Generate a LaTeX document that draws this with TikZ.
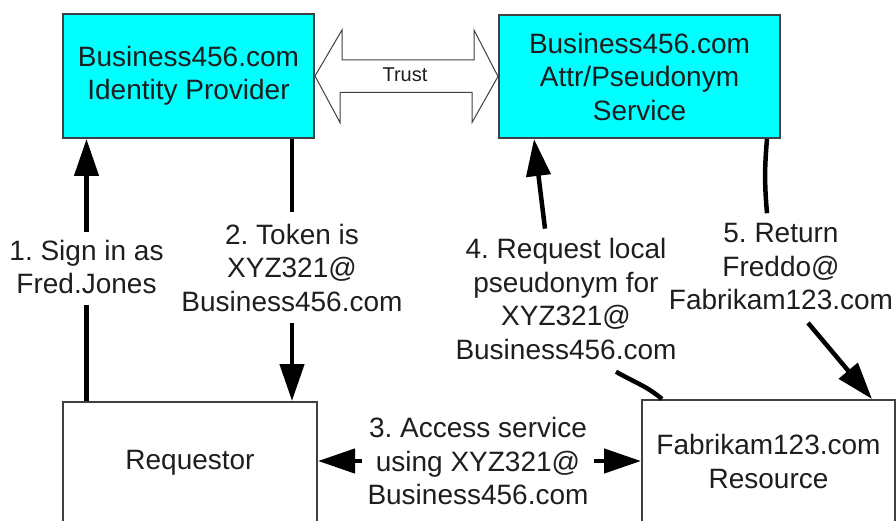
\documentclass[tikz,border=0pt]{standalone}
\usepackage{fontspec}
\setmainfont{Liberation Sans}
\usetikzlibrary{arrows.meta,calc}
\definecolor{aqua}{RGB}{0,255,255}
\definecolor{txt}{RGB}{30,30,30}
\frenchspacing
\begin{document}
\begin{tikzpicture}[x=1pt,y=-1pt,
  box/.style={draw=black!75, line width=2pt, inner sep=0pt, align=center,
    font=\fontsize{28}{33.5}\selectfont, text=txt},
  cbox/.style={box, fill=aqua},
  lbl/.style={inner sep=0pt, align=center, font=\fontsize{28}{33.5}\selectfont, text=txt},
  conn/.style={line width=4.5pt, black},
  arr/.style={conn, -{Triangle[length=37pt,width=24pt]}},
  trust/.style={draw=black!75, line width=1pt, fill=white}]
\useasboundingbox (0,0) rectangle (896,521);
\clip (0,0) rectangle (896,521);

% boxes
\node[cbox, minimum width=251pt, minimum height=124pt] (idp) at (188.5,76) {Business456.com\\Identity Provider};
\node[cbox, minimum width=281pt, minimum height=123pt] (attr) at (639.5,76.5) {Business456.com\\Attr/Pseudonym\\Service};
\node[box, minimum width=254pt, minimum height=121pt] (req) at (190,462.5) {Requestor};
\node[box, minimum width=253pt, minimum height=123pt] (res) at (768.5,461.5) {Fabrikam123.com\\Resource};

% trust double arrow
\draw[trust] (idp.east) -- ++(27,-46) -- ++(0,30) -- ++(132,0) -- ++(0,-30) -- (attr.west)
  -- ++(-26,46) -- ++(0,-30) -- ++(-132,0) -- ++(0,30) -- cycle;
\node[font=\fontsize{20}{24}\selectfont, text=txt, inner sep=0pt] (trustlbl) at (405,75) {Trust};

% labels
\node[lbl] (l1) at (86.5,267) {1. Sign in as\\Fred.Jones};
\node[lbl] (l2) at (292,267.5) {2. Token is\\XYZ321@\\Business456.com};
\node[lbl] (l3) at (478,461) {3. Access service\\using XYZ321@\\Business456.com};
\node[lbl] (l4) at (566,299) {4. Request local\\pseudonym for\\XYZ321@\\Business456.com};
\node[lbl] (l5) at (781,266.7) {5. Return\\Freddo@\\Fabrikam123.com};

% 1
\draw[conn] (req.north -| l1.south) -- ([yshift=-10.5pt]l1.south);
\draw[arr] ([yshift=7.5pt]l1.north) -- (l1.north |- idp.south);
% 2
\draw[conn] (idp.south -| l2.north) -- ([yshift=11.5pt]l2.north);
\draw[arr] ([yshift=-11.7pt]l2.south) -- (l2.south |- req.north);
% 3
\draw[arr] ([xshift=-5.5pt]l3.west) -- (l3.west -| req.east);
\draw[arr] ([xshift=5.5pt]l3.east) -- (l3.east -| res.west);
% 4
\draw[conn] ($(res.north west)+(21,0)$) to[out=140,in=-30] ([xshift=50pt,yshift=-12pt]l4.south);
\draw[arr] ([xshift=-21pt,yshift=9.6pt]l4.north) -- ($(attr.south west)+(36,0)$);
% 5
\draw[conn] ($(attr.south east)+(-14,0)$) to[out=-95,in=95] ([xshift=-14pt,yshift=10pt]l5.north);
\draw[arr] ([xshift=27pt,yshift=-12.7pt]l5.south) -- ($(res.north east)+(-24,0)$);
\end{tikzpicture}
\end{document}
